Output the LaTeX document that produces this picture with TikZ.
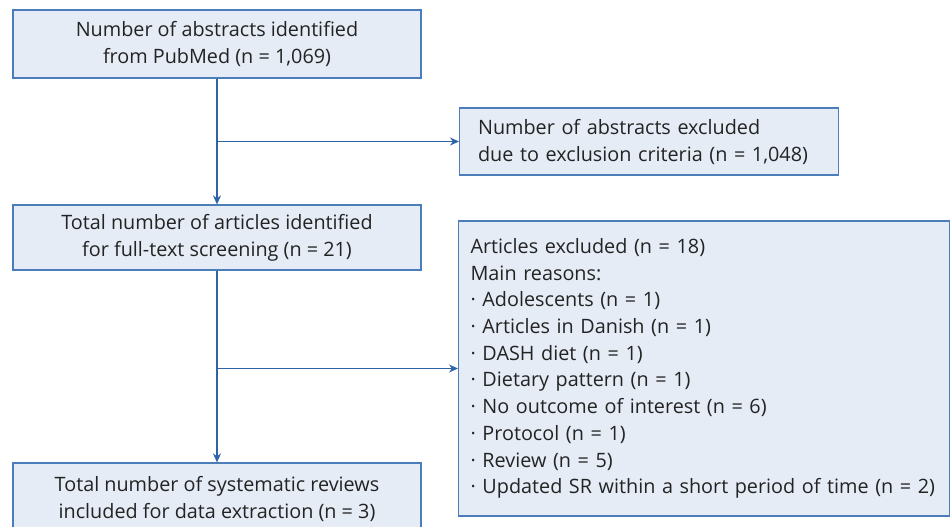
\documentclass[tikz,border=0pt]{standalone}
\usepackage{fontspec}
\setmainfont{Open Sans}
\usepackage{xcolor}
\usepackage{tikz}
\usetikzlibrary{arrows.meta,positioning,calc}
\definecolor{boxfill}{RGB}{229,236,246}
\definecolor{boxline}{RGB}{76,125,187}
\definecolor{arrowblue}{RGB}{46,99,168}
\definecolor{txtgrey}{RGB}{35,35,35}

\begin{document}
\begin{tikzpicture}[
        x=1pt, y=-1pt,
        >={Stealth[length=9pt,width=8pt]},
        every node/.style={font=\fontsize{19.8}{27}\selectfont, text=txtgrey},
        stage/.style={draw=boxline, fill=boxfill, line width=1.2pt, minimum width=408pt, align=center, inner sep=0pt},
        excl/.style={draw=boxline, fill=boxfill, line width=1.2pt, align=left, inner sep=0pt, anchor=west},
        flow/.style={draw=arrowblue, line width=1.4pt},
    ]
        \useasboundingbox (0,0) rectangle (950,527);

        \node[stage, minimum height=68pt] (abs) at (217,44) {Number of abstracts identified\\from PubMed (n = 1,069)};
        \node[stage, minimum height=65pt] (full) at (217,237.5) {Total number of articles identified\\for full-text screening (n = 21)};
        \node[stage, minimum height=72pt] (incl) at (217,499) {Total number of systematic reviews\\included for data extraction (n = 3)};

        \node[excl, minimum width=379pt, minimum height=67pt, text width=370pt] (exabs) at (459,141.5) {\hspace*{14pt}Number of abstracts excluded\\\hspace*{14pt}due to exclusion criteria (n = 1,048)};
        \node[excl, minimum width=491pt, minimum height=295pt, text width=485pt, font=\fontsize{19.8}{26.7}\selectfont] (exart) at (458,368.5) {\hspace*{9pt}Articles excluded (n = 18)\\
            \hspace*{9pt}Main reasons:\\
            \hspace*{9pt}· Adolescents (n = 1)\\
            \hspace*{9pt}· Articles in Danish (n = 1)\\
            \hspace*{9pt}· DASH diet (n = 1)\\
            \hspace*{9pt}· Dietary pattern (n = 1)\\
            \hspace*{9pt}· No outcome of interest (n = 6)\\
            \hspace*{9pt}· Protocol (n = 1)\\
            \hspace*{9pt}· Review (n = 5)\\
            \hspace*{9pt}· Updated SR within a short period of time (n = 2)};

        % branch points on the main line
        \coordinate (b1) at (abs.south |- exabs.west);
        \coordinate (b2) at (full.south |- exart.west);

        \draw[flow,->] (abs) -- (full);
        \draw[flow,->] (b1) -- (exabs);
        \draw[flow,->] (full) -- (incl);
        \draw[flow,->] (b2) -- (exart);
    \end{tikzpicture}
\end{document}
